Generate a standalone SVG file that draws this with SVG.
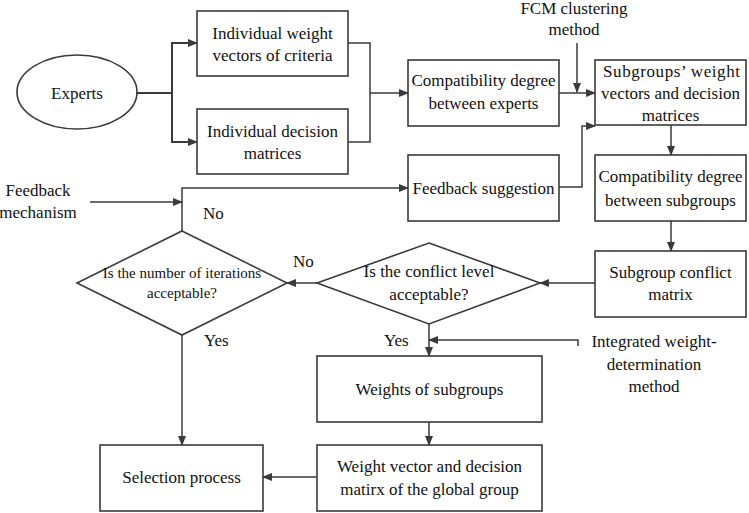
<svg xmlns="http://www.w3.org/2000/svg" width="749" height="513" viewBox="0 0 749 513" font-family="'Liberation Serif', 'Times New Roman', serif">
<style>
.box{fill:#fff;stroke:#3a3a3a;stroke-width:1.6}
.ln{fill:none;stroke:#3a3a3a;stroke-width:1.5}
.lt{fill:none;stroke:#3a3a3a;stroke-width:2}
text{font-family:'Liberation Serif','Times New Roman',serif;fill:#111}
.t{font-size:17px;text-anchor:middle}
.ts{font-size:15px;text-anchor:middle}
.tl{font-size:17px}
</style>
<defs>
<marker id="ah" markerWidth="10" markerHeight="8" refX="9" refY="4" orient="auto" markerUnits="userSpaceOnUse">
<path d="M0,0 L10,4 L0,8 Z" fill="#3a3a3a"/>
</marker>
</defs>
<rect width="749" height="513" fill="#fff"/>
<g id="connectors">
<polyline class="lt" points="137,93 172,93"/>
<polyline class="lt" points="197,43 172,43 172,142 197,142"/>
<line class="ln" x1="172" y1="43" x2="197" y2="43" marker-end="url(#ah)"/>
<line class="ln" x1="172" y1="142" x2="197" y2="142" marker-end="url(#ah)"/>
<polyline class="ln" points="348,43 370,43 370,142 348,142"/>
<line class="ln" x1="370" y1="93" x2="408" y2="93" marker-end="url(#ah)"/>
<line class="ln" x1="559" y1="93" x2="595" y2="93" marker-end="url(#ah)"/>
<line class="ln" x1="577" y1="43" x2="577" y2="92" marker-end="url(#ah)"/>
<polyline class="ln" points="559,187 582,187 582,126 595,126" marker-end="url(#ah)"/>
<line class="ln" x1="671" y1="125" x2="671" y2="155" marker-end="url(#ah)"/>
<line class="ln" x1="671" y1="221" x2="671" y2="251" marker-end="url(#ah)"/>
<line class="ln" x1="595" y1="283" x2="540" y2="283" marker-end="url(#ah)"/>
<line class="ln" x1="317" y1="283" x2="287" y2="283" marker-end="url(#ah)"/>
<polyline class="ln" points="182,231 182,188 408,188" marker-end="url(#ah)"/>
<line class="ln" x1="90" y1="202" x2="182" y2="202" marker-end="url(#ah)"/>
<line class="ln" x1="182" y1="335" x2="182" y2="445" marker-end="url(#ah)"/>
<line class="ln" x1="429" y1="324" x2="429" y2="356" marker-end="url(#ah)"/>
<polyline class="ln" points="578,346 578,340 429,340" marker-end="url(#ah)"/>
<line class="ln" x1="429" y1="422" x2="429" y2="445" marker-end="url(#ah)"/>
<line class="ln" x1="317" y1="477" x2="263" y2="477" marker-end="url(#ah)"/>
</g>
<g id="experts">
<ellipse class="box" cx="77" cy="92" rx="60" ry="37"/>
<text class="t" x="77" y="99">Experts</text>
</g>
<g id="ind-weight">
<rect class="box" x="197" y="11" width="151" height="65"/>
<text class="t" x="272.5" y="39">Individual weight</text>
<text class="t" x="272.5" y="61">vectors of criteria</text>
</g>
<g id="ind-decision">
<rect class="box" x="197" y="109" width="151" height="65"/>
<text class="t" x="272.5" y="137">Individual decision</text>
<text class="t" x="272.5" y="159">matrices</text>
</g>
<g id="compat-experts">
<rect class="box" x="408" y="60" width="151" height="66"/>
<text class="t" x="483.5" y="86">Compatibility degree</text>
<text class="t" x="483.5" y="109">between experts</text>
</g>
<g id="fcm">
<text class="t" x="574" y="14">FCM clustering</text>
<text class="t" x="574" y="35">method</text>
</g>
<g id="subgroups">
<rect class="box" x="595" y="60" width="151" height="65"/>
<text class="tl" x="603" y="77" textLength="137" lengthAdjust="spacing">Subgroups’ weight</text>
<text class="t" x="670.5" y="99">vectors and decision</text>
<text class="t" x="670.5" y="121">matrices</text>
</g>
<g id="feedback-suggestion">
<rect class="box" x="408" y="155" width="151" height="66"/>
<text class="t" x="483.5" y="194">Feedback suggestion</text>
</g>
<g id="compat-subgroups">
<rect class="box" x="595" y="155" width="151" height="66"/>
<text class="t" x="670.5" y="182">Compatibility degree</text>
<text class="t" x="670.5" y="206">between subgroups</text>
</g>
<g id="conflict-matrix">
<rect class="box" x="595" y="251" width="151" height="66"/>
<text class="t" x="670.5" y="278">Subgroup conflict</text>
<text class="t" x="670.5" y="300">matrix</text>
</g>
<g id="conflict-decision">
<polygon class="box" points="429,243 540,283 429,324 317,283"/>
<text class="t" x="429" y="277">Is the conflict level</text>
<text class="t" x="429" y="300">acceptable?</text>
</g>
<g id="iteration-decision">
<polygon class="box" points="182,231 287,283 182,335 77,283"/>
<text class="ts" x="182" y="278">Is the number of iterations</text>
<text class="ts" x="182" y="298">acceptable?</text>
</g>
<g id="feedback-mechanism">
<text class="t" x="38" y="196">Feedback</text>
<text class="t" x="38" y="218">mechanism</text>
</g>
<g id="integrated">
<text class="t" x="654" y="347">Integrated weight-</text>
<text class="t" x="654" y="370">determination</text>
<text class="t" x="654" y="392">method</text>
</g>
<g id="weights-subgroups">
<rect class="box" x="317" y="356" width="225" height="66"/>
<text class="t" x="429.5" y="395">Weights of subgroups</text>
</g>
<g id="global">
<rect class="box" x="317" y="445" width="225" height="66"/>
<text class="t" x="429.5" y="472">Weight vector and decision</text>
<text class="t" x="429.5" y="495">matirx of the global group</text>
</g>
<g id="selection">
<rect class="box" x="100" y="445" width="163" height="66"/>
<text class="t" x="181.5" y="483">Selection process</text>
</g>
<g id="labels">
<text class="tl" x="203" y="219">No</text>
<text class="tl" x="293" y="267">No</text>
<text class="tl" x="204" y="346">Yes</text>
<text class="tl" x="384" y="346">Yes</text>
</g>
</svg>
